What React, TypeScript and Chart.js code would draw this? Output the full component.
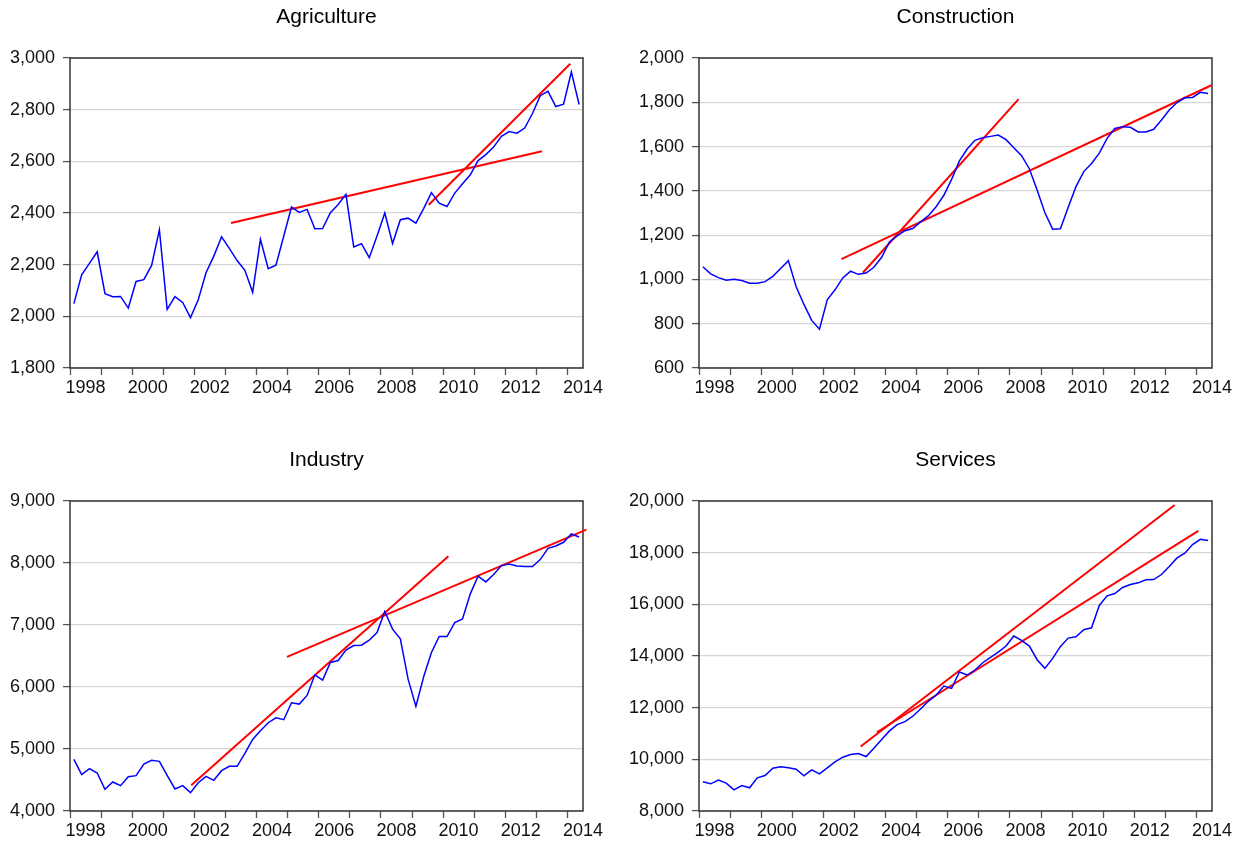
import React, { useEffect, useRef } from "react";
import { Chart, registerables } from "chart.js";

Chart.register(...registerables);

// ---- data (quarterly, 1998Q1 .. 2014Q2) ----
const START_YEAR = 1998;
const X_MIN = 1998;
const X_MAX = 2014.5;

const agricultureValues = [
  2049, 2161, 2205, 2250, 2088, 2076, 2077, 2032, 2135, 2142,
  2197, 2335, 2027, 2076, 2054, 1995, 2064, 2169, 2233, 2308,
  2263, 2216, 2178, 2093, 2298, 2184, 2198, 2311, 2423, 2402,
  2414, 2339, 2340, 2401, 2433, 2472, 2269, 2281, 2227, 2311,
  2400, 2282, 2374, 2380, 2361, 2417, 2479, 2438, 2425, 2477,
  2513, 2548, 2603, 2626, 2655, 2697, 2715, 2709, 2729, 2785,
  2854, 2871, 2812, 2821, 2946, 2820,
];
const constructionValues = [
  1057, 1025, 1008, 996, 1001, 995, 983, 983, 990, 1014,
  1049, 1085, 967, 887, 815, 775, 908, 953, 1007, 1037,
  1023, 1029, 1055, 1100, 1169, 1197, 1220, 1230, 1260, 1287,
  1328, 1380, 1452, 1535, 1589, 1628, 1640, 1646, 1652, 1631,
  1595, 1559, 1500, 1404, 1301, 1227, 1229, 1326, 1419, 1487,
  1524, 1570, 1637, 1682, 1690, 1687, 1666, 1666, 1678, 1720,
  1765, 1799, 1820, 1822, 1845, 1840,
];
const industryValues = [
  4833, 4586, 4683, 4613, 4350, 4468, 4409, 4554, 4570, 4758,
  4817, 4801, 4575, 4355, 4409, 4296, 4457, 4559, 4495, 4650,
  4720, 4720, 4930, 5155, 5295, 5424, 5504, 5472, 5746, 5724,
  5864, 6197, 6111, 6396, 6428, 6594, 6669, 6675, 6755, 6879,
  7217, 6933, 6777, 6127, 5687, 6165, 6557, 6814, 6814, 7040,
  7099, 7502, 7786, 7695, 7813, 7958, 7985, 7953, 7942, 7942,
  8055, 8237, 8275, 8334, 8468, 8420,
];
const servicesValues = [
  9129, 9052, 9194, 9078, 8820, 8988, 8898, 9284, 9374, 9657,
  9709, 9670, 9619, 9361, 9593, 9438, 9670, 9902, 10082, 10185,
  10224, 10108, 10430, 10765, 11100, 11345, 11460, 11667, 11950, 12246,
  12478, 12839, 12748, 13380, 13264, 13457, 13740, 13946, 14152, 14384,
  14771, 14603, 14384, 13856, 13521, 13908, 14371, 14693, 14745, 15015,
  15093, 15956, 16329, 16419, 16651, 16767, 16832, 16948, 16960, 17154,
  17463, 17798, 17978, 18313, 18519, 18467,
];

// trend line end points [year, value]
const agricultureTrendLong = [[2003.18, 2361], [2013.18, 2639]];
const agricultureTrendShort = [[2009.54, 2432], [2014.09, 2978]];
const constructionTrendLong = [[2002.58, 1092], [2014.48, 1877]];
const constructionTrendShort = [[2003.27, 1030], [2008.28, 1814]];
const industryTrendSteep = [[2001.9, 4414], [2010.17, 8109]];
const industryTrendFlat = [[2004.98, 6487], [2014.61, 8538]];
const servicesTrendSteep = [[2003.2, 10495], [2013.3, 19845]];
const servicesTrendFlat = [[2003.72, 11048], [2014.06, 18841]];

// axis ranges [min, max, step]
const agricultureAxis = [1800, 3000, 200];
const constructionAxis = [600, 2000, 200];
const industryAxis = [4000, 9000, 1000];
const servicesAxis = [8000, 20000, 2000];

const FONT = "'Liberation Sans', Arial, Helvetica, sans-serif";

const framePlugin = {
  id: "frame",
  beforeDatasetsDraw(chart: any) {
    const { ctx, chartArea: a } = chart;
    ctx.save();
    ctx.strokeStyle = "#333333";
    ctx.lineWidth = 1.5;
    ctx.strokeRect(a.left, a.top, a.right - a.left, a.bottom - a.top);
    ctx.restore();
  },
};

type PanelProps = {
  title: string;
  values: number[];
  trends: number[][][];
  axis: number[];
  left: number;
  top: number;
};

function Panel({ title, values, trends, axis, left, top }: PanelProps) {
  const ref = useRef<HTMLCanvasElement | null>(null);

  useEffect(() => {
    if (!ref.current) return;
    const series = values.map((v, i) => ({ x: START_YEAR + (i + 0.5) / 4, y: v }));
    const datasets: any[] = [
      {
        data: series,
        borderColor: "#0000ff",
        borderWidth: 1.5,
        pointRadius: 0,
        tension: 0,
        fill: false,
      },
      ...trends.map((t) => ({
        data: t.map((p) => ({ x: p[0], y: p[1] })),
        borderColor: "#ff0000",
        borderWidth: 2,
        pointRadius: 0,
        tension: 0,
        fill: false,
        clip: false,
      })),
    ];
    const chart = new Chart(ref.current, {
      type: "line",
      data: { datasets },
      plugins: [framePlugin],
      options: {
        responsive: false,
        animation: false,
        events: [],
        layout: { padding: { left: 0, right: 39, top: 0, bottom: 0 } },
        plugins: {
          legend: { display: false },
          tooltip: { enabled: false },
          title: {
            display: true,
            fullSize: false,
            text: title,
            color: "#000000",
            font: { family: FONT, size: 21, weight: "normal" as any },
            padding: { top: 4.4, bottom: 28.4 },
          },
        },
        scales: {
          x: {
            type: "linear",
            min: X_MIN,
            max: X_MAX,
            afterFit: (s: any) => {
              s.height = 31;
            },
            border: { display: false },
            grid: {
              drawOnChartArea: false,
              drawTicks: true,
              tickLength: 7,
              tickColor: "#555555",
              tickWidth: 1.3,
            },
            ticks: {
              stepSize: 1,
              autoSkip: false,
              maxRotation: 0,
              minRotation: 0,
              includeBounds: false,
              labelOffset: 15.5,
              padding: 2,
              color: "#111111",
              font: { family: FONT, size: 18 },
              callback: (v: any) => (Number(v) % 2 === 0 ? String(v) : ""),
            },
          },
          y: {
            min: axis[0],
            max: axis[1],
            afterFit: (s: any) => {
              s.width = 70;
            },
            border: { display: false },
            grid: {
              color: "#d6d6d6",
              lineWidth: 1.2,
              tickLength: 7,
              tickColor: "#555555",
              tickWidth: 1.3,
            },
            ticks: {
              stepSize: axis[2],
              padding: 8,
              color: "#111111",
              font: { family: FONT, size: 18 },
              callback: (v: any) => Number(v).toLocaleString("en-US"),
            },
          },
        },
      } as any,
    });
    return () => chart.destroy();
  }, []);

  return (
    <div style={{ position: "absolute", left, top, width: 622, height: 399 }}>
      <canvas ref={ref} width={622} height={399} style={{ display: "block" }} />
    </div>
  );
}

export default function App() {
  return (
    <div
      style={{
        position: "fixed",
        left: 0,
        top: 0,
        width: 1251,
        height: 844,
        background: "#ffffff",
        overflow: "hidden",
      }}
    >
      <Panel
        title="Agriculture"
        values={agricultureValues}
        trends={[agricultureTrendLong, agricultureTrendShort]}
        axis={agricultureAxis}
        left={0}
        top={0}
      />
      <Panel
        title="Construction"
        values={constructionValues}
        trends={[constructionTrendLong, constructionTrendShort]}
        axis={constructionAxis}
        left={629}
        top={0}
      />
      <Panel
        title="Industry"
        values={industryValues}
        trends={[industryTrendSteep, industryTrendFlat]}
        axis={industryAxis}
        left={0}
        top={443}
      />
      <Panel
        title="Services"
        values={servicesValues}
        trends={[servicesTrendSteep, servicesTrendFlat]}
        axis={servicesAxis}
        left={629}
        top={443}
      />
    </div>
  );
}
